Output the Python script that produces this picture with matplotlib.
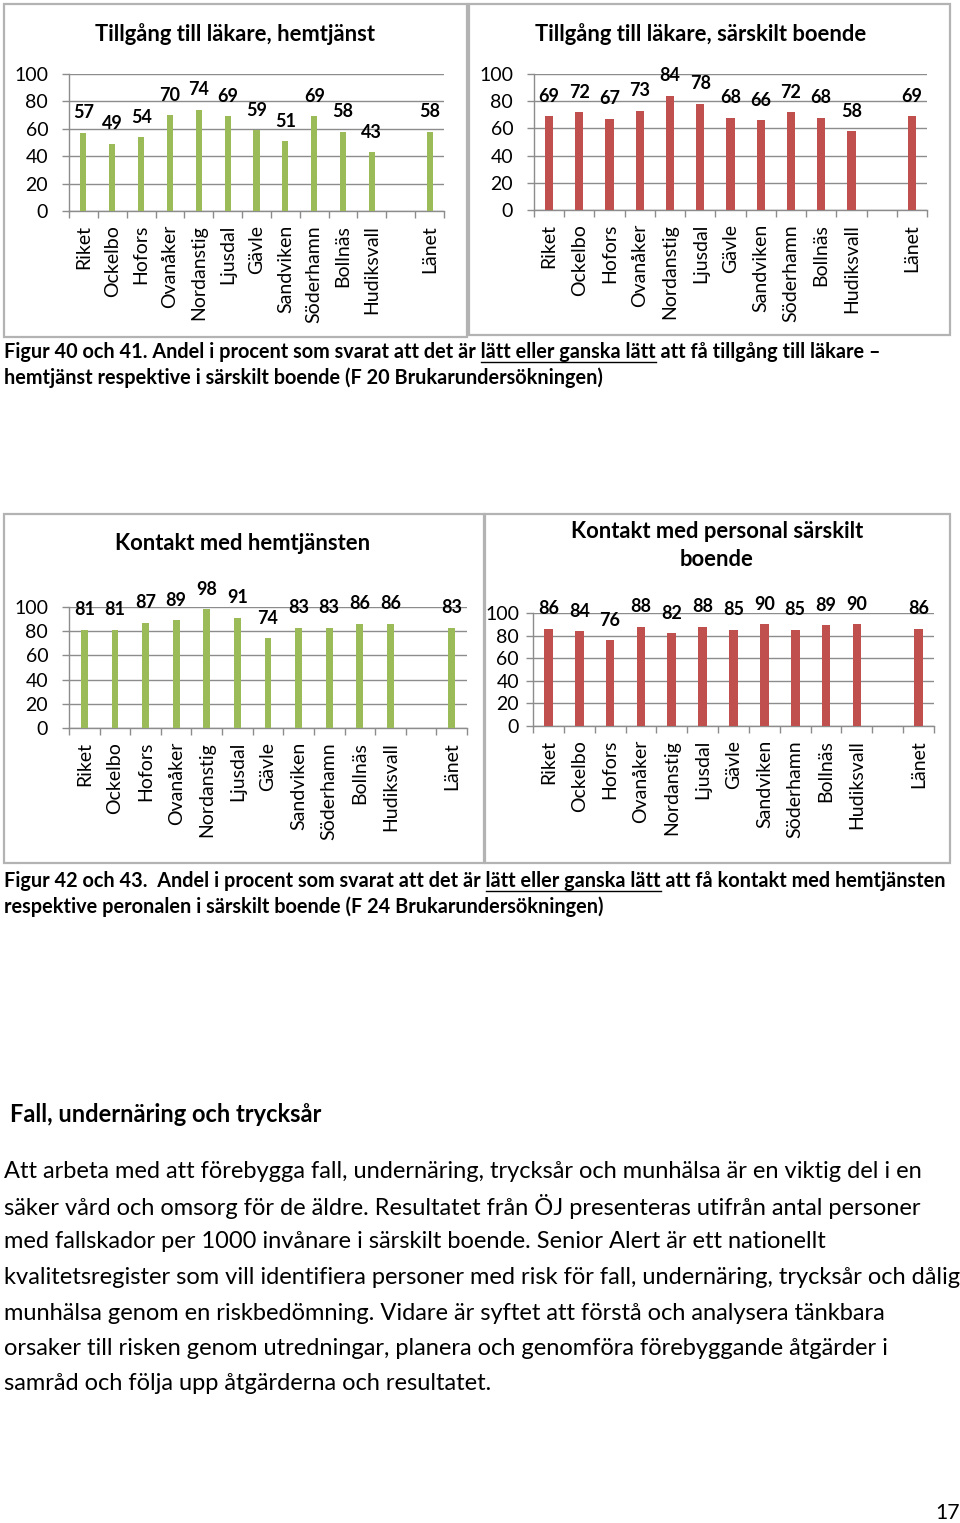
import matplotlib
matplotlib.use("Agg")
import matplotlib.pyplot as plt
from matplotlib.patches import Rectangle
import numpy as np

plt.rcParams['font.family'] = ['Lato', 'DejaVu Sans']

# data
kommuner = ["Riket", "Ockelbo", "Hofors", "Ovanåker", "Nordanstig", "Ljusdal",
            "Gävle", "Sandviken", "Söderhamn", "Bollnäs", "Hudiksvall", "", "Länet"]
lakare_hemtjanst = [57, 49, 54, 70, 74, 69, 59, 51, 69, 58, 43, np.nan, 58]
lakare_boende = [69, 72, 67, 73, 84, 78, 68, 66, 72, 68, 58, np.nan, 69]
kontakt_hemtjanst = [81, 81, 87, 89, 98, 91, 74, 83, 83, 86, 86, np.nan, 83]
kontakt_boende = [86, 84, 76, 88, 82, 88, 85, 90, 85, 89, 90, np.nan, 86]
yticks = [0, 20, 40, 60, 80, 100]

GREEN = "#9BBB59"
RED = "#C0504D"
GRID = "#8C8C8C"

W, H = 960, 1523
fig = plt.figure(figsize=(W / 100, H / 100), dpi=100)
r = fig.canvas.get_renderer()


def rect(l, t, rr, b):
    return [l / W, 1 - b / H, (rr - l) / W, (b - t) / H]


def P(x, y):
    return x / W, 1 - y / H


def box(l, t, rr, b):
    fig.patches.append(Rectangle((l / W, 1 - b / H), (rr - l) / W, (b - t) / H,
                                 transform=fig.transFigure, fill=False,
                                 edgecolor="#B3B3B3", linewidth=1.6))


def width(s, size, weight="normal"):
    t = fig.text(0, 0, s + "|", fontsize=size, fontweight=weight)
    t2 = fig.text(0, 0, "|", fontsize=size, fontweight=weight)
    w = t.get_window_extent(r).width - t2.get_window_extent(r).width
    t.remove()
    t2.remove()
    return w


def size_for(s, target, weight="normal"):
    return 12 * target / width(s, 12, weight)


def chart(pos, vals, color, bw, ypad=10):
    ax = fig.add_axes(rect(*pos))
    x = np.arange(len(kommuner))
    ax.bar(x, vals, width=bw, color=color, zorder=3)
    for xi, v in zip(x, vals):
        if not np.isnan(v):
            ax.annotate(f"{v:.0f}", (xi, v), xytext=(0, 20), textcoords="offset pixels",
                        ha="center", va="center", fontsize=13, fontweight="bold")
    ax.set_xlim(-0.5, len(kommuner) - 0.5)
    ax.set_ylim(0, 100)
    ax.set_yticks(yticks)
    ax.yaxis.grid(True, color=GRID, linewidth=1, zorder=0)
    ax.set_xticks(x, kommuner, rotation=90, fontsize=14)
    ax.set_xticks(np.arange(-0.5, len(kommuner)), minor=True)
    ax.tick_params(axis="x", which="major", length=0, pad=10)
    ax.tick_params(axis="x", which="minor", length=5, color=GRID, width=1)
    ax.tick_params(axis="y", length=5, color=GRID, width=1, labelsize=14, pad=ypad)
    for lab in ax.get_xticklabels():
        lab.set_va("top")
    for s in ["top", "right"]:
        ax.spines[s].set_visible(False)
    for s in ["left", "bottom"]:
        ax.spines[s].set_color(GRID)
        ax.spines[s].set_linewidth(1)
    return ax


# chart frames
box(4, 4, 467, 337)
box(469, 4, 950, 335)
box(4, 514, 484, 863)
box(485, 514, 950, 863)

chart((69, 74, 444, 211), lakare_hemtjanst, GREEN, 0.21)
chart((534, 74, 927, 210), lakare_boende, RED, 0.27)
chart((69, 607, 467, 728), kontakt_hemtjanst, GREEN, 0.22)
chart((533, 613, 934, 726), kontakt_boende, RED, 0.28, ypad=5)

ts = size_for("Tillgång till läkare, hemtjänst", 277, "bold")
fig.text(*P(235, 34), "Tillgång till läkare, hemtjänst", ha="center", va="center",
         fontsize=ts, fontweight="bold")
fig.text(*P(701, 34), "Tillgång till läkare, särskilt boende", ha="center", va="center",
         fontsize=ts, fontweight="bold")
fig.text(*P(243, 544), "Kontakt med hemtjänsten", ha="center", va="center",
         fontsize=ts, fontweight="bold")
fig.text(*P(717, 531), "Kontakt med personal särskilt", ha="center", va="center",
         fontsize=ts, fontweight="bold")
fig.text(*P(717, 559), "boende", ha="center", va="center",
         fontsize=ts, fontweight="bold")


# captions with underlined part
def caption(y, pre, under, post, size):
    fig.text(*P(4, y), pre + under + post, ha="left", va="center", fontsize=size,
             fontweight="bold")
    x0 = 4 + width(pre, size, "bold")
    x1 = x0 + width(under, size, "bold")
    fig.lines.append(plt.Line2D([x0 / W, x1 / W], [1 - (y + 10) / H] * 2,
                                transform=fig.transFigure, color="black", linewidth=1))


cap1 = ("Figur 40 och 41. Andel i procent som svarat att det är ", "lätt eller ganska lätt",
        " att få tillgång till läkare –")
cs = size_for("".join(cap1), 866, "bold")
caption(352, *cap1, cs)
fig.text(*P(4, 378), "hemtjänst respektive i särskilt boende (F 20 Brukarundersökningen)",
         ha="left", va="center", fontsize=cs, fontweight="bold")
cap2 = ("Figur 42 och 43.  Andel i procent som svarat att det är ", "lätt eller ganska lätt",
        " att få kontakt med hemtjänsten")
caption(881, *cap2, cs)
fig.text(*P(4, 907), "respektive peronalen i särskilt boende (F 24 Brukarundersökningen)",
         ha="left", va="center", fontsize=cs, fontweight="bold")

# section heading and body text
heading = "Fall, undernäring och trycksår"
fig.text(*P(10, 1114), heading, ha="left", va="center",
         fontsize=size_for(heading, 309, "bold"), fontweight="bold")

body = [
    "Att arbeta med att förebygga fall, undernäring, trycksår och munhälsa är en viktig del i en",
    "säker vård och omsorg för de äldre. Resultatet från ÖJ presenteras utifrån antal personer",
    "med fallskador per 1000 invånare i särskilt boende. Senior Alert är ett nationellt",
    "kvalitetsregister som vill identifiera personer med risk för fall, undernäring, trycksår och dålig",
    "munhälsa genom en riskbedömning. Vidare är syftet att förstå och analysera tänkbara",
    "orsaker till risken genom utredningar, planera och genomföra förebyggande åtgärder i",
    "samråd och följa upp åtgärderna och resultatet.",
]
bs = size_for(body[3], 954)
for i, line in enumerate(body):
    fig.text(*P(4, 1171 + i * 35.5), line, ha="left", va="center", fontsize=bs)

fig.text(*P(948, 1513), "17", ha="center", va="center", fontsize=bs * 0.9)

fig.savefig("out.png", dpi=100)
